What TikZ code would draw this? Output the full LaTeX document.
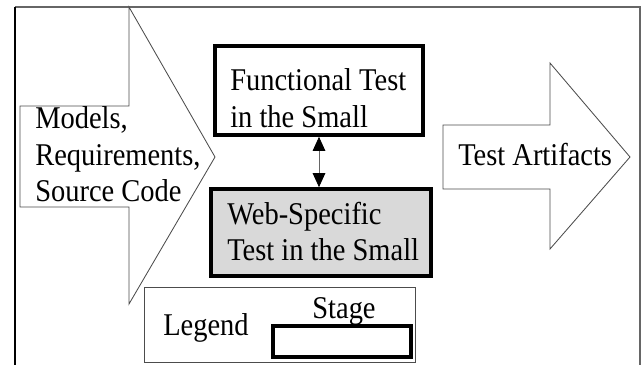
\documentclass[tikz,border=0pt]{standalone}
\usepackage{fontspec}
\setmainfont[FakeStretch=0.9]{Liberation Serif}
\usetikzlibrary{arrows.meta, positioning}

\begin{document}
\begin{tikzpicture}[x=0.025cm, y=-0.025cm,
    lbl/.style={font=\fontsize{22.5}{26}\selectfont, inner sep=0pt},
    stagebox/.style={draw, line width=2.6pt},
    flow/.style={draw=black!70, line width=0.6pt, fill=white},
    dbl/.style={{Triangle[length=10pt,width=9pt,color=black]}-{Triangle[length=10pt,width=9pt,color=black]}, draw=black!60, line width=0.6pt}]
    \useasboundingbox (0,0) rectangle (641,364);
    \clip (0,0) rectangle (641,364);

    % frame round the picture
    \draw[black!60, line width=0.8pt] (15,7) -- (640,7) -- (640,370);
    \draw[black, line width=0.9pt] (15,370) -- (15,7);

    % input and output arrows
    \draw[flow] (20,106) -- (129,106) -- (129,7) -- (215,157) -- (129,304) -- (129,207) -- (20,207) -- cycle;
    \node[lbl, align=left, anchor=north west] (input) at (35,106.5) {Models,\\Requirements,\\Source Code};

    \draw[flow] (443,125) -- (550,125) -- (550,63) -- (630,157) -- (550,249) -- (550,189) -- (443,189) -- cycle;
    \node[lbl, anchor=base west] (output) at (458,165) {Test Artifacts};

    % stages
    \node[stagebox, minimum width=5.2cm, minimum height=2.225cm] (func) at (319,90.5) {};
    \node[lbl, align=left, anchor=north west] (functxt) at (230,68.5) {Functional Test\\in the Small};
    \node[stagebox, fill=gray!30, minimum width=5.5cm, minimum height=2.175cm] (web) at (321,232.5) {};
    \node[lbl, align=left, anchor=north west] (webtxt) at (227,201.5) {Web-Specific\\Test in the Small};
    \draw[dbl] (func.south) -- (func.south |- web.north);

    % legend
    \node[flow, minimum width=6.775cm, minimum height=1.875cm] (legend) at (279.5,324.5) {};
    \node[lbl, anchor=base west] (legendtxt) at (163,335) {Legend};
    \node[stagebox, minimum width=3.45cm, minimum height=0.775cm] (stage) at (342,341.5) {};
    \node[lbl, anchor=base] (stagetxt) at (344,318) {Stage};
\end{tikzpicture}
\end{document}
